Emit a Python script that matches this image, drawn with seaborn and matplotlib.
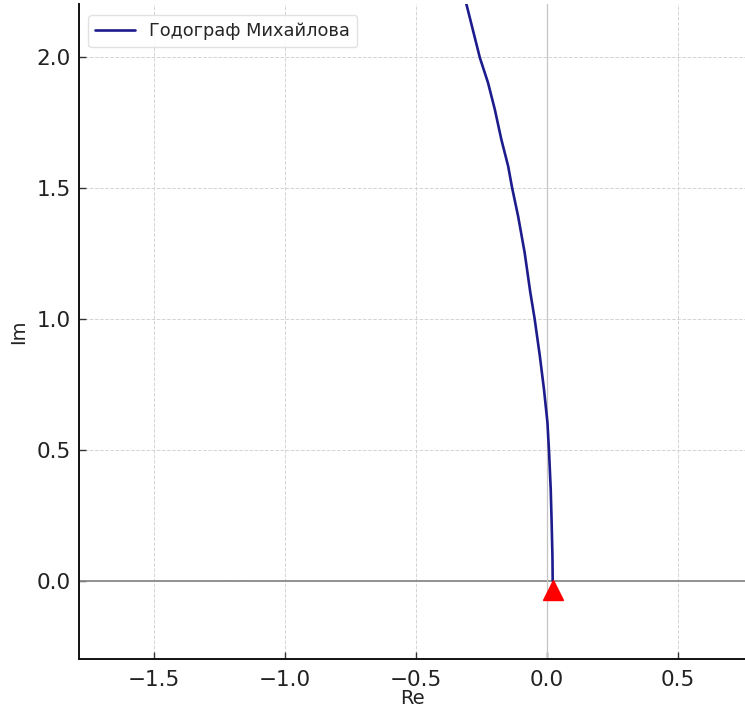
import numpy as np
import pandas as pd
import matplotlib
matplotlib.use("Agg")
import matplotlib.pyplot as plt
import seaborn as sns

# Mikhailov hodograph points
re_vals = [0.022, 0.021, 0.018, 0.0145, 0.008, 0.002, -0.011, -0.027, -0.047, -0.064,
           -0.085, -0.110, -0.133, -0.148, -0.174, -0.199, -0.225, -0.256, -0.307, -0.325]
im_vals = [0.0, 0.095, 0.222, 0.349, 0.495, 0.604, 0.729, 0.858, 1.001, 1.105,
           1.253, 1.392, 1.501, 1.583, 1.685, 1.800, 1.902, 1.997, 2.200, 2.26]
start_re = [0.022]
start_im = [-0.033]
legend_label = "Годограф Михайлова"
x_ticks = [-1.5, -1.0, -0.5, 0.0, 0.5]
y_ticks = [0.0, 0.5, 1.0, 1.5, 2.0]

df = pd.DataFrame({"Re": re_vals, "Im": im_vals})

sns.set_style("ticks")
plt.rcParams['font.family'] = ['DejaVu Sans']

W, H = 745, 713
fig = plt.figure(figsize=(W / 100, H / 100), dpi=100)
left, bottom, top = 79, 659, 4
ax = fig.add_axes([left / W, (H - bottom) / H, (W - left) / W, (bottom - top) / H])

ax.grid(True, linestyle='--', color='#d4d4d4', linewidth=0.7)
ax.axhline(0, color='#8a8a8a', linewidth=1.3, zorder=1)
ax.axvline(0, color='#c4c4c4', linewidth=0.9, zorder=1)

sns.lineplot(data=df, x="Re", y="Im", sort=False, estimator=None, color='#1c1c8c',
             linewidth=1.9, label=legend_label, ax=ax, zorder=3)
ax.plot(start_re, start_im, marker='^', color='red', markersize=14, linestyle='none', zorder=4)

ax.set_xlim(-1.786, 0.756)
ax.set_ylim(-0.298, 2.202)
ax.set_xticks(x_ticks)
ax.set_yticks(y_ticks)
ax.tick_params(labelsize=15.5, length=5, width=1, direction='in', colors='#333333')
ax.tick_params(axis='x', pad=8)
ax.tick_params(axis='y', pad=6)
ax.tick_params(labelcolor='#222222')
ax.set_xlabel("Re", fontsize=14, color='#222222', labelpad=-1)
ax.set_ylabel("Im", fontsize=14, color='#222222', labelpad=6)
for s in ['top', 'right']:
    ax.spines[s].set_visible(False)
for s in ['left', 'bottom']:
    ax.spines[s].set_linewidth(1.4)
    ax.spines[s].set_color('#111111')

ax.legend(loc='upper left', fontsize=12.8, frameon=True,
          bbox_to_anchor=((88 - left) / (W - left), (bottom - 15) / (bottom - top)),
          borderaxespad=0, framealpha=0.85, edgecolor='#dcdcdc', handlelength=2.25)

fig.savefig("out.png", dpi=100)
